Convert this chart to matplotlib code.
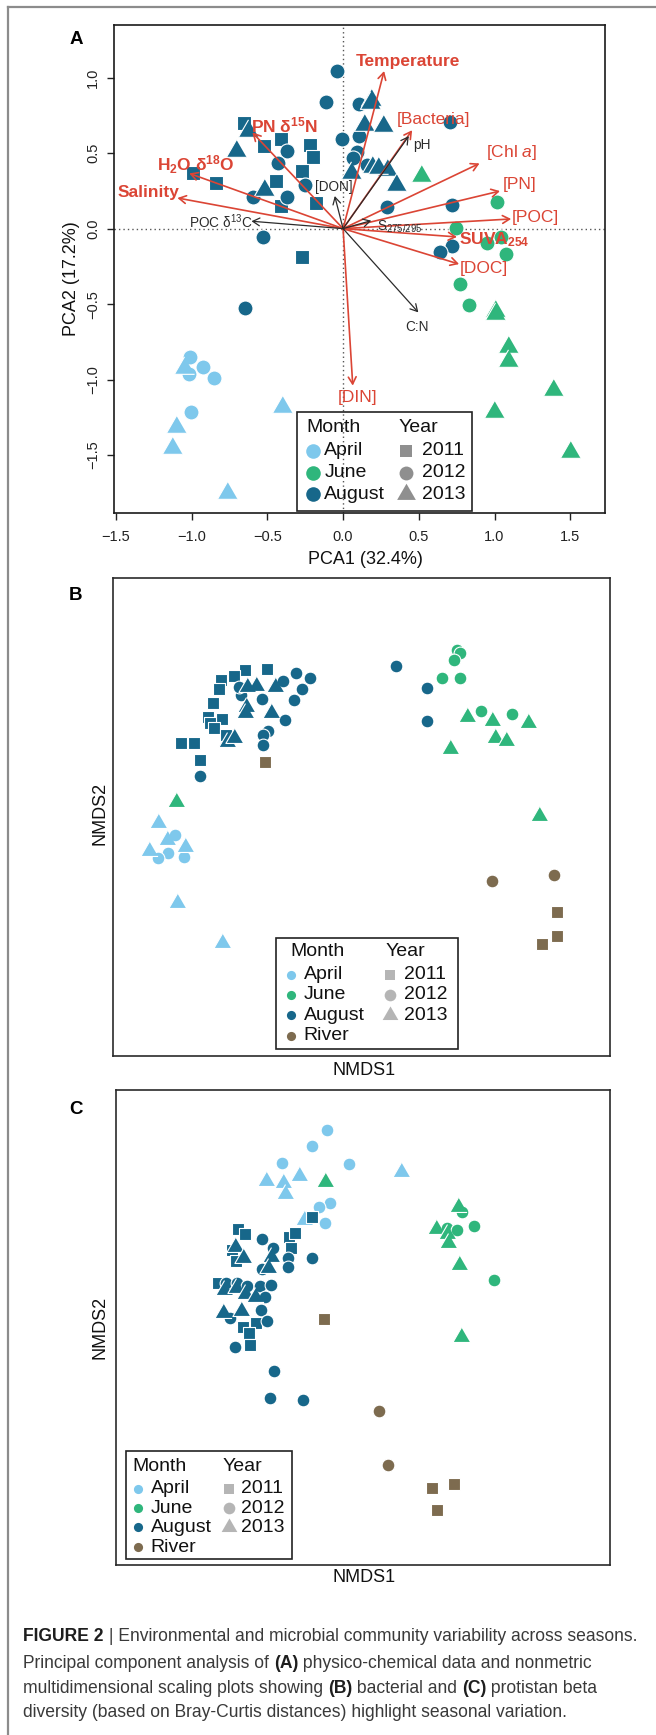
import matplotlib
matplotlib.use("Agg")
import matplotlib.pyplot as plt
from matplotlib import font_manager
from matplotlib.patches import Rectangle
from matplotlib.lines import Line2D

W, H = 656, 1735

installed = {f.name for f in font_manager.fontManager.ttflist}
SANS = "Liberation Sans" if "Liberation Sans" in installed else "DejaVu Sans"
NARROW = "Liberation Sans Narrow" if "Liberation Sans Narrow" in installed else SANS
plt.rcParams["font.family"] = [SANS, "DejaVu Sans"]
plt.rcParams["mathtext.fontset"] = "custom"
plt.rcParams["mathtext.rm"] = SANS
plt.rcParams["mathtext.it"] = SANS + ":italic"
plt.rcParams["mathtext.bf"] = SANS + ":bold"
plt.rcParams["mathtext.default"] = "regular"

months = ["April", "June", "August", "River"]
years = [2011, 2012, 2013]
month_colors = {"April": "#7ec8ec", "June": "#2fb67c", "August": "#17678a", "River": "#7d6b4f"}
RED = "#db4535"
DARK = "#2b2b2b"

# ---- A: PCA site scores ----
a_aug11_x = [-0.655, -0.409, -0.519, -0.218, -0.199, -0.268, -0.444, -0.994, -0.842, -0.409, -0.182, -0.270]
a_aug11_y = [0.703, 0.591, 0.549, 0.553, 0.476, 0.383, 0.315, 0.366, 0.304, 0.152, 0.168, -0.185]
a_aug12_x = [-0.038, -0.113, 0.105, 0.708, -0.008, 0.105, 0.089, 0.064, 0.161, -0.370, -0.428, -0.249,
             -0.593, -0.373, 0.290, 0.721, -0.530, 0.721, 0.641, -0.646]
a_aug12_y = [1.042, 0.839, 0.824, 0.705, 0.597, 0.613, 0.509, 0.469, 0.421, 0.516, 0.436, 0.287,
             0.212, 0.212, 0.141, 0.159, -0.053, -0.114, -0.154, -0.524]
a_aug13_x = [0.182, 0.180, 0.138, 0.265, -0.627, -0.704, 0.050, 0.188, 0.288, 0.348, -0.519, 0.230]
a_aug13_y = [0.855, 0.830, 0.685, 0.679, 0.646, 0.516, 0.366, 0.410, 0.388, 0.289, 0.256, 0.400]
a_jun12_x = [1.017, 0.746, 1.044, 0.953, 1.077, 0.774, 0.829]
a_jun12_y = [0.176, 0.007, -0.057, -0.097, -0.167, -0.365, -0.509]
a_jun13_x = [0.514, 1.003, 1.003, 1.091, 1.091, 1.387, 0.998, 1.497]
a_jun13_y = [0.350, -0.548, -0.565, -0.786, -0.879, -1.066, -1.213, -1.478]
a_apr12_x = [-1.013, -0.928, -0.850, -1.019, -1.003]
a_apr12_y = [-0.852, -0.916, -0.991, -0.962, -1.213]
a_apr13_x = [-1.049, -1.102, -1.130, -0.403, -0.767]
a_apr13_y = [-0.923, -1.313, -1.451, -1.185, -1.753]

# ---- A: variable loadings ----
load_names = ["Temperature", "[Bacteria]", "[Chl $\\it{a}$]", "[PN]", "[POC]", "SUVA$_{254}$", "[DOC]",
              "[DIN]", "Salinity", "H$_2$O $\\delta^{18}$O", "PN $\\delta^{15}$N",
              "pH", "[DON]", "POC $\\delta^{13}$C", "C:N", "S$_{275/295}$"]
load_x = [0.271, 0.456, 0.901, 1.036, 1.110, 0.752, 0.766, 0.064, -1.094, -1.016, -0.599,
          0.434, -0.055, -0.605, 0.497, 0.186]
load_y = [1.044, 0.652, 0.432, 0.249, 0.064, -0.055, -0.235, -1.040, 0.203, 0.366, 0.637,
          0.613, 0.216, 0.049, -0.555, 0.053]
load_main = [True] * 11 + [False] * 5

# ---- B: bacterial NMDS ----
b_aug11_x = [0.309, 0.265, 0.244, 0.217, 0.213, 0.202, 0.191, 0.219, 0.196, 0.204, 0.136, 0.162, 0.175, 0.227]
b_aug11_y = [0.810, 0.808, 0.796, 0.787, 0.768, 0.738, 0.709, 0.705, 0.697, 0.686, 0.655, 0.655, 0.619, 0.672]
b_aug12_x = [0.570, 0.631, 0.632, 0.369, 0.396, 0.342, 0.381, 0.365, 0.300, 0.257, 0.254, 0.346, 0.311,
             0.301, 0.301, 0.176]
b_aug12_y = [0.817, 0.770, 0.702, 0.801, 0.792, 0.784, 0.769, 0.745, 0.747, 0.756, 0.773, 0.703, 0.681,
             0.671, 0.651, 0.586]
b_aug13_x = [0.288, 0.326, 0.269, 0.268, 0.265, 0.318, 0.230, 0.244]
b_aug13_y = [0.775, 0.772, 0.773, 0.731, 0.717, 0.719, 0.658, 0.665]
b_jun12_x = [0.693, 0.699, 0.686, 0.662, 0.699, 0.741, 0.803]
b_jun12_y = [0.850, 0.843, 0.830, 0.791, 0.791, 0.723, 0.715]
b_jun13_x = [0.713, 0.763, 0.835, 0.768, 0.791, 0.678, 0.126, 0.858]
b_jun13_y = [0.709, 0.702, 0.697, 0.665, 0.660, 0.643, 0.532, 0.503]
b_apr12_x = [0.125, 0.111, 0.091, 0.143]
b_apr12_y = [0.463, 0.424, 0.414, 0.416]
b_apr13_x = [0.090, 0.108, 0.073, 0.145, 0.129, 0.219]
b_apr13_y = [0.488, 0.452, 0.429, 0.438, 0.321, 0.236]
b_riv11_x = [0.306, 0.893, 0.893, 0.864]
b_riv11_y = [0.615, 0.301, 0.252, 0.234]
b_riv12_x = [0.763, 0.887]
b_riv12_y = [0.366, 0.379]

# ---- C: protistan NMDS ----
c_apr12_x = [0.427, 0.397, 0.337, 0.471, 0.433, 0.412, 0.424]
c_apr12_y = [0.916, 0.882, 0.846, 0.844, 0.763, 0.753, 0.721]
c_apr13_x = [0.577, 0.371, 0.304, 0.338, 0.343, 0.381]
c_apr13_y = [0.827, 0.818, 0.808, 0.804, 0.781, 0.726]
c_jun12_x = [0.701, 0.670, 0.690, 0.725, 0.766]
c_jun12_y = [0.744, 0.709, 0.705, 0.714, 0.599]
c_jun13_x = [0.424, 0.692, 0.648, 0.670, 0.673, 0.694, 0.698]
c_jun13_y = [0.807, 0.754, 0.707, 0.696, 0.677, 0.632, 0.481]
c_aug11_x = [0.396, 0.248, 0.261, 0.350, 0.362, 0.354, 0.235, 0.244, 0.206, 0.258, 0.284, 0.269, 0.272]
c_aug11_y = [0.733, 0.707, 0.697, 0.691, 0.698, 0.667, 0.663, 0.639, 0.593, 0.502, 0.509, 0.488, 0.463]
c_aug12_x = [0.295, 0.318, 0.396, 0.348, 0.348, 0.295, 0.223, 0.246, 0.265, 0.292, 0.314, 0.301, 0.293,
             0.230, 0.306, 0.241, 0.320, 0.311, 0.378]
c_aug12_y = [0.686, 0.667, 0.646, 0.646, 0.627, 0.623, 0.593, 0.593, 0.587, 0.587, 0.589, 0.565, 0.537,
             0.519, 0.514, 0.460, 0.408, 0.352, 0.348]
c_aug13_x = [0.242, 0.257, 0.313, 0.307, 0.218, 0.244, 0.261, 0.282, 0.217, 0.253]
c_aug13_y = [0.669, 0.646, 0.649, 0.625, 0.579, 0.583, 0.570, 0.565, 0.530, 0.535]
c_riv11_x = [0.422, 0.640, 0.684, 0.649]
c_riv11_y = [0.517, 0.163, 0.171, 0.115]
c_riv12_x = [0.533, 0.551]
c_riv12_y = [0.325, 0.211]

groups_a = [("August", 2011, a_aug11_x, a_aug11_y), ("August", 2012, a_aug12_x, a_aug12_y),
            ("August", 2013, a_aug13_x, a_aug13_y), ("June", 2012, a_jun12_x, a_jun12_y),
            ("June", 2013, a_jun13_x, a_jun13_y), ("April", 2012, a_apr12_x, a_apr12_y),
            ("April", 2013, a_apr13_x, a_apr13_y)]
groups_b = [("August", 2011, b_aug11_x, b_aug11_y), ("August", 2012, b_aug12_x, b_aug12_y),
            ("August", 2013, b_aug13_x, b_aug13_y), ("June", 2012, b_jun12_x, b_jun12_y),
            ("June", 2013, b_jun13_x, b_jun13_y), ("April", 2012, b_apr12_x, b_apr12_y),
            ("April", 2013, b_apr13_x, b_apr13_y), ("River", 2011, b_riv11_x, b_riv11_y),
            ("River", 2012, b_riv12_x, b_riv12_y)]
groups_c = [("April", 2012, c_apr12_x, c_apr12_y), ("April", 2013, c_apr13_x, c_apr13_y),
            ("June", 2012, c_jun12_x, c_jun12_y), ("June", 2013, c_jun13_x, c_jun13_y),
            ("August", 2011, c_aug11_x, c_aug11_y), ("August", 2012, c_aug12_x, c_aug12_y),
            ("August", 2013, c_aug13_x, c_aug13_y), ("River", 2011, c_riv11_x, c_riv11_y),
            ("River", 2012, c_riv12_x, c_riv12_y)]

# R-like filled symbols: square 15, circle 16, triangle 17
TRI = [(0, 1.555), (-1.347, -0.778), (1.347, -0.778)]
year_marker = {2011: "s", 2012: "o", 2013: TRI}


def sizes_for(d):
    # d = circle diameter in points
    return {2011: (0.886 * d) ** 2, 2012: d ** 2, 2013: (1.555 * d) ** 2}


def draw_points(ax, groups, d):
    sz = sizes_for(d)
    for month, yr, xs, ys in groups:
        ax.scatter(xs, ys, s=sz[yr], marker=year_marker[yr], c=month_colors[month],
                   edgecolors="white", linewidths=0.8, zorder=3)


def draw_key(ax, lay, mlist, dot_d, year_d, year_col):
    x0, y0, x1, y1 = lay["box"]
    ax.add_patch(Rectangle((x0, y0), x1 - x0, y1 - y0, transform=ax.transAxes, fill=False,
                           ec="#222222", lw=1.2, zorder=6))
    kw = dict(transform=ax.transAxes, fontsize=14, va="center", ha="left", zorder=7, color="#111111")
    ax.text(lay["mt"], lay["title"], "Month", **kw)
    ax.text(lay["yt"], lay["title"], "Year", **kw)
    for i, m in enumerate(mlist):
        r = lay["rows"][i]
        ax.scatter([lay["mm"]], [r], transform=ax.transAxes, s=dot_d ** 2, marker="o",
                   c=month_colors[m], linewidths=0, zorder=7, clip_on=False)
        ax.text(lay["mx"], r, m, **kw)
    ysz = sizes_for(year_d)
    for i, yr in enumerate(years):
        r = lay["rows"][i]
        ax.scatter([lay["ym"]], [r], transform=ax.transAxes, s=ysz[yr], marker=year_marker[yr],
                   c=year_col, linewidths=0, zorder=7, clip_on=False)
        ax.text(lay["yx"], r, str(yr), **kw)


def px_axes(fig, left, top, right, bottom):
    return fig.add_axes([left / W, 1 - bottom / H, (right - left) / W, (bottom - top) / H])


fig = plt.figure(figsize=(W / 100, H / 100), dpi=100)

# outer frame (top + left)
fig.add_artist(Line2D([8.4 / W, 1.0], [1 - 6.7 / H] * 2, transform=fig.transFigure, color="#8c8c8c", lw=1.6))
fig.add_artist(Line2D([8.4 / W] * 2, [0, 1 - 6.7 / H], transform=fig.transFigure, color="#8c8c8c", lw=1.6))

# ---------------- Panel A ----------------
axA = px_axes(fig, 113.8, 25, 604.6, 513.3)
axA.set_xlim(-1.514, 1.727)
axA.set_ylim(-1.886, 1.349)
axA.axhline(0, color="#555555", lw=1, ls=(0, (1, 2.2)), zorder=1)
axA.axvline(0, color="#555555", lw=1, ls=(0, (1, 2.2)), zorder=1)
draw_points(axA, groups_a, 10.8)

for name, lx, ly, main in zip(load_names, load_x, load_y, load_main):
    axA.annotate("", xy=(lx, ly), xytext=(0, 0),
                 arrowprops=dict(arrowstyle="->,head_length=0.5,head_width=0.28", color=RED if main else DARK,
                                 lw=1.2 if main else 0.9, shrinkA=0, shrinkB=0, mutation_scale=10),
                 zorder=4)

# label placement for loadings (layout)
label_pos = {"Temperature": (0.426, 1.110, "center", "bold"),
             "[Bacteria]": (0.594, 0.723, "center", "normal"),
             "[Chl $\\it{a}$]": (1.110, 0.502, "center", "normal"),
             "[PN]": (1.163, 0.289, "center", "normal"),
             "[POC]": (1.271, 0.073, "center", "normal"),
             "SUVA$_{254}$": (0.768, -0.071, "left", "bold"),
             "[DOC]": (0.931, -0.264, "center", "normal"),
             "[DIN]": (0.097, -1.117, "center", "normal"),
             "Salinity": (-1.284, 0.240, "center", "bold"),
             "H$_2$O $\\delta^{18}$O": (-0.972, 0.423, "center", "bold"),
             "PN $\\delta^{15}$N": (-0.386, 0.683, "center", "bold"),
             "pH": (0.464, 0.552, "left", "normal"),
             "[DON]": (-0.063, 0.273, "center", "normal"),
             "POC $\\delta^{13}$C": (-0.809, 0.046, "center", "normal"),
             "C:N": (0.486, -0.654, "center", "normal"),
             "S$_{275/295}$": (0.221, 0.010, "left", "normal")}
for name, main in zip(load_names, load_main):
    tx, ty, ha, wt = label_pos[name]
    axA.text(tx, ty, name, color=RED if main else DARK, fontsize=12.5 if main else 9.8,
             fontweight=wt, ha=ha, va="center", zorder=5)

axA.set_xticks([-1.5, -1.0, -0.5, 0.0, 0.5, 1.0, 1.5])
axA.set_yticks([-1.5, -1.0, -0.5, 0.0, 0.5, 1.0])
axA.set_yticklabels(["\u22121.5", "\u22121.0", "\u22120.5", "0.0", "0.5", "1.0"], rotation=90, va="center")
axA.tick_params(direction="out", length=5, width=1, labelsize=10.5, color="#222222", labelcolor="#222222")
axA.tick_params(axis="x", pad=7)
axA.tick_params(axis="y", pad=5)
for sp in axA.spines.values():
    sp.set_linewidth(1.2)
    sp.set_color("#1a1a1a")
draw_key(axA, dict(box=(0.374, 0.005, 0.730, 0.208), title=0.176, rows=[0.128, 0.083, 0.039],
                   mt=0.393, mm=0.405, mx=0.429, yt=0.580, ym=0.596, yx=0.627),
         months[:3], 10.5, 10.0, "#8f8f8f")

# ---------------- Panels B and C ----------------
axB = px_axes(fig, 113, 578.3, 610, 1056)
axC = px_axes(fig, 115.9, 1090, 610, 1565)
for ax, grp in ((axB, groups_b), (axC, groups_c)):
    ax.set_xlim(0, 1)
    ax.set_ylim(0, 1)
    ax.set_xticks([])
    ax.set_yticks([])
    for sp in ax.spines.values():
        sp.set_linewidth(1.2)
        sp.set_color("#2a2a2a")
    draw_points(ax, grp, 9.2)

draw_key(axB, dict(box=(0.327, 0.014, 0.694, 0.246), title=0.218, rows=[0.170, 0.128, 0.085, 0.042],
                   mt=0.356, mm=0.358, mx=0.384, yt=0.549, ym=0.558, yx=0.585),
         months, 6.6, 8.4, "#b5b5b5")
draw_key(axC, dict(box=(0.020, 0.013, 0.356, 0.240), title=0.208, rows=[0.161, 0.119, 0.079, 0.037],
                   mt=0.033, mm=0.044, mx=0.070, yt=0.216, ym=0.229, yx=0.254),
         months, 6.6, 8.4, "#b5b5b5")

# axis labels and panel letters
lab = dict(fontsize=13, color="#111111", ha="center", va="center")
fig.text(365 / W, 1 - 559 / H, "PCA1 (32.4%)", **lab)
fig.text(71 / W, 1 - 279 / H, "PCA2 (17.2%)", rotation=90, **lab)
fig.text(364 / W, 1 - 1070 / H, "NMDS1", **lab)
fig.text(100 / W, 1 - 813 / H, "NMDS2", rotation=90, **lab)
fig.text(364 / W, 1 - 1577 / H, "NMDS1", **lab)
fig.text(100 / W, 1 - 1327 / H, "NMDS2", rotation=90, **lab)
for letter, yy in (("A", 40), ("B", 595.8), ("C", 1110)):
    fig.text(76 / W, 1 - yy / H, letter, fontsize=13.5, fontweight="bold", ha="center", va="center",
             family=["Liberation Sans", "DejaVu Sans"])

# caption
renderer = fig.canvas.get_renderer()
cap_family = [NARROW, "DejaVu Sans"]


def advance(txt, weight, size):
    a = fig.text(0, 0, "x" + txt + "x", fontweight=weight, fontsize=size, family=cap_family)
    b = fig.text(0, 0, "xx", fontweight=weight, fontsize=size, family=cap_family)
    w = a.get_window_extent(renderer).width - b.get_window_extent(renderer).width
    a.remove()
    b.remove()
    return w


caption = [
    (1636.7, [("FIGURE 2", "bold"), (" | Environmental and microbial community variability across seasons.", "normal")]),
    (1663.3, [("Principal component analysis of ", "normal"), ("(A)", "bold"),
              (" physico-chemical data and nonmetric", "normal")]),
    (1688.3, [("multidimensional scaling plots showing ", "normal"), ("(B)", "bold"),
              (" bacterial and ", "normal"), ("(C)", "bold"), (" protistan beta", "normal")]),
    (1712.7, [("diversity (based on Bray-Curtis distances) highlight seasonal variation.", "normal")]),
]
# fit the first line to the width it takes in the figure (23 px -> 643 px)
base = 14.0
w1 = sum(advance(t, wt, base) for t, wt in caption[0][1])
cap_size = base * 620.0 / w1
for yy, parts in caption:
    x = 23.0
    for txt, wt in parts:
        col = "#1e1e1e" if wt == "bold" else "#3a3a3a"
        fig.text(x / W, 1 - yy / H, txt, fontweight=wt, color=col, fontsize=cap_size, family=cap_family,
                 va="center", ha="left")
        x += advance(txt, wt, cap_size)

fig.savefig("out.png", dpi=100)
